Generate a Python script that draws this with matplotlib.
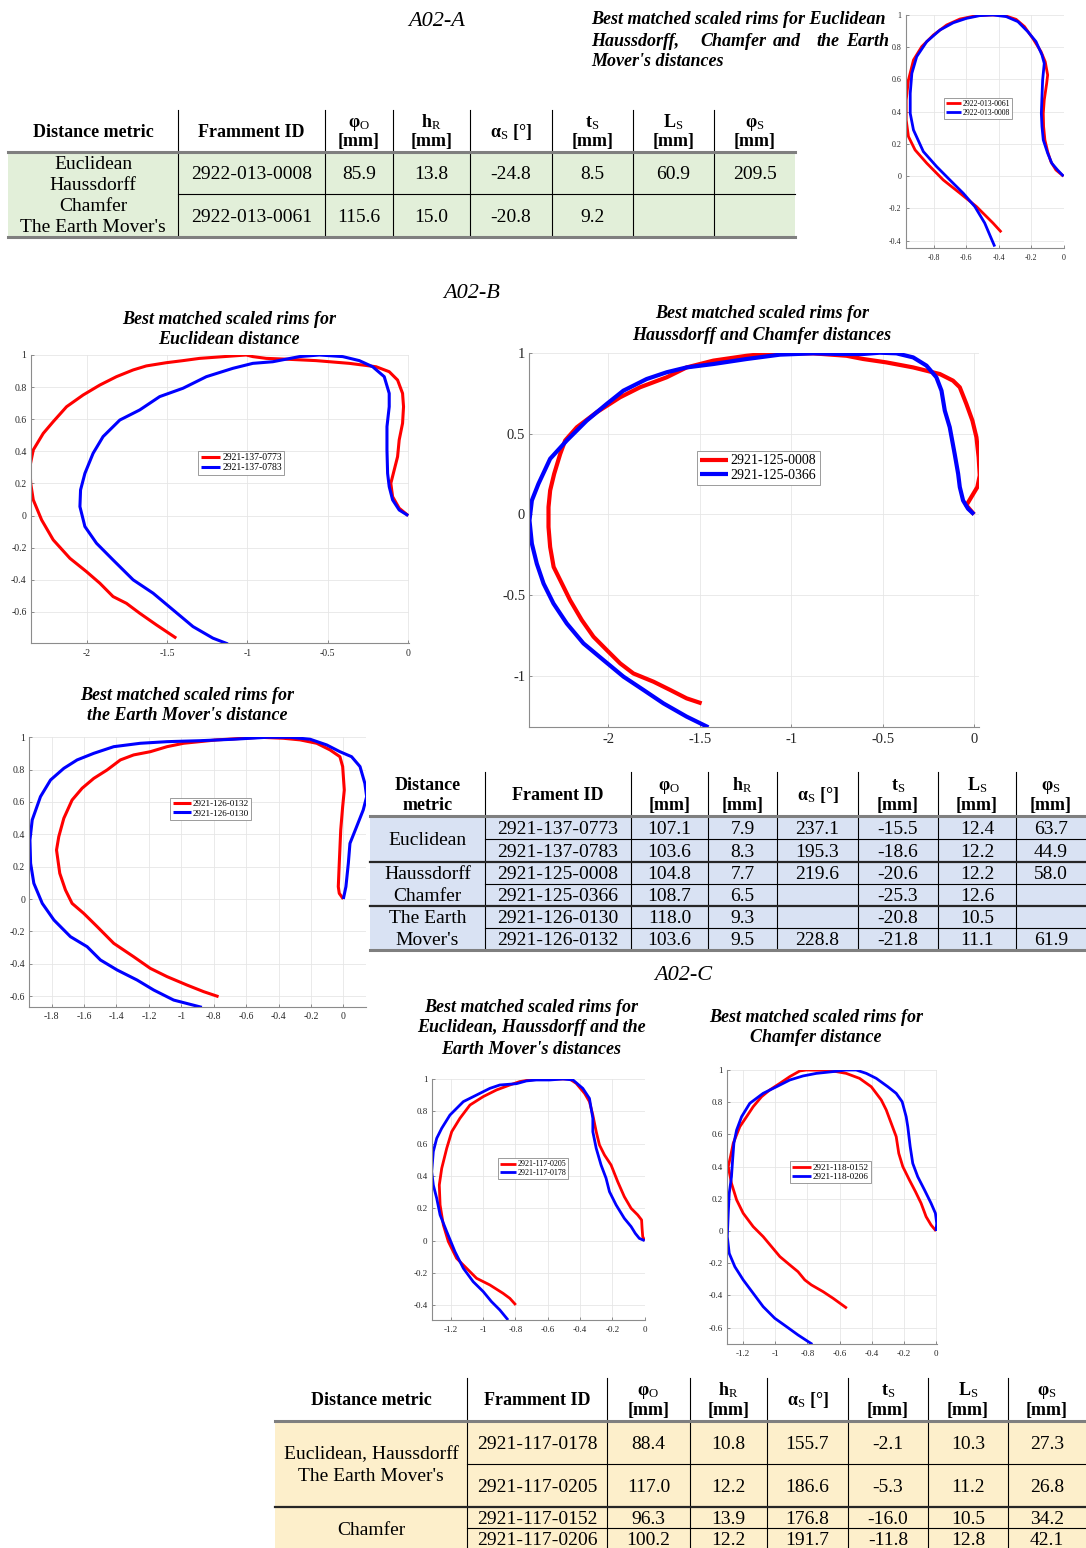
import matplotlib
matplotlib.use("Agg")
import matplotlib.pyplot as plt
from matplotlib.patches import Rectangle
from matplotlib.ticker import FuncFormatter
import numpy as np

plt.rcParams['font.family'] = ['Liberation Serif', 'DejaVu Sans']
plt.rcParams['axes.unicode_minus'] = False
plt.rcParams['mathtext.fontset'] = 'custom'
plt.rcParams['mathtext.rm'] = 'Liberation Serif'
plt.rcParams['mathtext.bf'] = 'Liberation Serif:bold'
plt.rcParams['mathtext.it'] = 'Liberation Serif:italic'

# ---- rim profiles (x, y) ----
a_red = np.array([(0, 0), (-0.047, 0.039), (-0.078, 0.09), (-0.098, 0.153), (-0.115, 0.225), (-0.123, 0.308),
                  (-0.125, 0.39), (-0.119, 0.473), (-0.104, 0.576), (-0.098, 0.628), (-0.113, 0.71), (-0.139, 0.773),
                  (-0.19, 0.855), (-0.241, 0.928), (-0.293, 0.973), (-0.374, 1.0), (-0.456, 1.0), (-0.538, 0.996),
                  (-0.64, 0.975), (-0.722, 0.938), (-0.804, 0.876), (-0.876, 0.804), (-0.927, 0.721), (-0.958, 0.597),
                  (-0.972, 0.473), (-0.972, 0.349), (-0.958, 0.246), (-0.917, 0.163), (-0.845, 0.081), (-0.743, -0.023),
                  (-0.64, -0.105), (-0.538, -0.188), (-0.436, -0.29), (-0.384, -0.347)])
a_blue = np.array([(0, 0), (-0.037, 0.039), (-0.072, 0.08), (-0.098, 0.143), (-0.125, 0.225), (-0.133, 0.308),
                   (-0.137, 0.39), (-0.133, 0.494), (-0.129, 0.597), (-0.119, 0.7), (-0.133, 0.752), (-0.17, 0.835),
                   (-0.221, 0.897), (-0.282, 0.959), (-0.354, 0.99), (-0.436, 1.0), (-0.518, 0.996), (-0.6, 0.979),
                   (-0.681, 0.952), (-0.763, 0.907), (-0.845, 0.835), (-0.907, 0.742), (-0.937, 0.638), (-0.947, 0.514),
                   (-0.947, 0.39), (-0.927, 0.287), (-0.866, 0.153), (-0.784, 0.06), (-0.702, -0.023), (-0.62, -0.105),
                   (-0.548, -0.188), (-0.487, -0.29), (-0.425, -0.436)])
a_labels = ["2922-013-0061", "2922-013-0008"]

b1_red = np.array([(0, 0), (-0.056, 0.046), (-0.097, 0.118), (-0.108, 0.201), (-0.087, 0.284), (-0.066, 0.367),
                   (-0.056, 0.471), (-0.035, 0.575), (-0.029, 0.678), (-0.035, 0.761), (-0.066, 0.844), (-0.118, 0.896),
                   (-0.2, 0.927), (-0.366, 0.948), (-0.573, 0.965), (-0.78, 0.975), (-0.883, 0.979), (-0.966, 0.99),
                   (-1.007, 1.0), (-1.09, 0.994), (-1.297, 0.979), (-1.4, 0.965), (-1.504, 0.952), (-1.628, 0.932),
                   (-1.71, 0.907), (-1.814, 0.865), (-1.917, 0.813), (-2.021, 0.751), (-2.124, 0.678), (-2.207, 0.585),
                   (-2.269, 0.512), (-2.331, 0.409), (-2.352, 0.305), (-2.347, 0.201), (-2.331, 0.098), (-2.279, -0.027),
                   (-2.207, -0.151), (-2.103, -0.266), (-2.0, -0.349), (-1.917, -0.421), (-1.835, -0.504),
                   (-1.752, -0.546), (-1.669, -0.608), (-1.566, -0.68), (-1.442, -0.763)])
b1_blue = np.array([(0, 0), (-0.056, 0.035), (-0.097, 0.098), (-0.118, 0.18), (-0.128, 0.263), (-0.132, 0.409),
                    (-0.132, 0.554), (-0.118, 0.678), (-0.118, 0.761), (-0.149, 0.865), (-0.221, 0.927), (-0.304, 0.965),
                    (-0.407, 0.99), (-0.552, 1.0), (-0.676, 0.99), (-0.842, 0.958), (-0.966, 0.948), (-1.09, 0.917),
                    (-1.255, 0.865), (-1.4, 0.793), (-1.545, 0.741), (-1.669, 0.658), (-1.793, 0.595), (-1.897, 0.492),
                    (-1.959, 0.388), (-2.01, 0.263), (-2.037, 0.16), (-2.041, 0.056), (-2.01, -0.068), (-1.938, -0.172),
                    (-1.835, -0.276), (-1.71, -0.4), (-1.586, -0.483), (-1.462, -0.587), (-1.338, -0.691),
                    (-1.214, -0.763), (-1.121, -0.799)])
b1_labels = ["2921-137-0773", "2921-137-0783"]

b2_red = np.array([(0, 0), (-0.042, 0.056), (-0.015, 0.107), (0.018, 0.169), (0.031, 0.241), (0.025, 0.354),
                   (0.013, 0.477), (-0.009, 0.58), (-0.042, 0.683), (-0.078, 0.786), (-0.115, 0.827), (-0.187, 0.868),
                   (-0.333, 0.909), (-0.479, 0.94), (-0.606, 0.961), (-0.697, 0.981), (-0.879, 0.996), (-1.061, 0.996),
                   (-1.152, 0.992), (-1.243, 0.981), (-1.425, 0.951), (-1.571, 0.909), (-1.68, 0.848), (-1.826, 0.786),
                   (-1.935, 0.724), (-2.062, 0.632), (-2.171, 0.539), (-2.235, 0.457), (-2.262, 0.374), (-2.295, 0.251),
                   (-2.317, 0.148), (-2.326, 0.045), (-2.326, -0.078), (-2.317, -0.202), (-2.298, -0.325),
                   (-2.262, -0.407), (-2.208, -0.531), (-2.144, -0.654), (-2.08, -0.757), (-2.007, -0.84),
                   (-1.934, -0.922), (-1.862, -0.984), (-1.752, -1.035), (-1.661, -1.086), (-1.571, -1.138),
                   (-1.489, -1.169)])
b2_blue = np.array([(0, 0), (-0.033, 0.035), (-0.06, 0.086), (-0.078, 0.169), (-0.087, 0.251), (-0.106, 0.374),
                    (-0.133, 0.539), (-0.16, 0.642), (-0.178, 0.765), (-0.206, 0.848), (-0.26, 0.92), (-0.333, 0.971),
                    (-0.424, 0.996), (-0.515, 1.0), (-0.606, 0.992), (-0.733, 0.992), (-0.879, 0.996), (-1.061, 0.988),
                    (-1.243, 0.961), (-1.425, 0.93), (-1.571, 0.909), (-1.68, 0.879), (-1.79, 0.837), (-1.917, 0.765),
                    (-2.008, 0.683), (-2.117, 0.58), (-2.226, 0.457), (-2.317, 0.344), (-2.381, 0.189), (-2.417, 0.086),
                    (-2.43, -0.037), (-2.417, -0.181), (-2.39, -0.305), (-2.353, -0.428), (-2.299, -0.551),
                    (-2.226, -0.675), (-2.135, -0.798), (-2.026, -0.901), (-1.916, -1.004), (-1.807, -1.086),
                    (-1.698, -1.169), (-1.571, -1.251), (-1.452, -1.317)])
b2_labels = ["2921-125-0008", "2921-125-0366"]

b3_red = np.array([(0, 0), (-0.025, 0.035), (-0.031, 0.076), (-0.025, 0.221), (-0.016, 0.427), (-0.004, 0.571),
                   (0.006, 0.674), (-0.004, 0.819), (-0.021, 0.88), (-0.082, 0.922), (-0.164, 0.963), (-0.267, 0.984),
                   (-0.37, 0.994), (-0.513, 1.0), (-0.616, 0.994), (-0.78, 0.984), (-0.986, 0.963), (-1.088, 0.942),
                   (-1.191, 0.911), (-1.294, 0.891), (-1.376, 0.86), (-1.458, 0.798), (-1.54, 0.746), (-1.612, 0.685),
                   (-1.674, 0.612), (-1.725, 0.499), (-1.756, 0.386), (-1.77, 0.303), (-1.75, 0.159), (-1.715, 0.056),
                   (-1.674, -0.027), (-1.602, -0.089), (-1.519, -0.171), (-1.417, -0.274), (-1.294, -0.357),
                   (-1.191, -0.429), (-1.088, -0.48), (-0.965, -0.532), (-0.862, -0.573), (-0.77, -0.604)])
b3_blue = np.array([(0, 0), (0.016, 0.076), (0.031, 0.221), (0.041, 0.344), (0.082, 0.447), (0.123, 0.551),
                    (0.144, 0.633), (0.133, 0.715), (0.103, 0.819), (0.051, 0.88), (-0.021, 0.911), (-0.103, 0.953),
                    (-0.205, 0.988), (-0.329, 1.0), (-0.472, 1.0), (-0.678, 0.988), (-0.883, 0.979), (-1.088, 0.973),
                    (-1.253, 0.963), (-1.417, 0.942), (-1.54, 0.901), (-1.643, 0.86), (-1.725, 0.808), (-1.807, 0.736),
                    (-1.869, 0.633), (-1.92, 0.489), (-1.934, 0.365), (-1.93, 0.221), (-1.91, 0.097), (-1.858, -0.027),
                    (-1.786, -0.13), (-1.684, -0.233), (-1.581, -0.295), (-1.499, -0.377), (-1.396, -0.439),
                    (-1.273, -0.501), (-1.17, -0.563), (-1.047, -0.625), (-0.873, -0.67)])
b3_labels = ["2921-126-0132", "2921-126-0130"]

c1_red = np.array([(0, 0), (-0.012, 0.025), (-0.016, 0.076), (-0.019, 0.128), (-0.043, 0.159), (-0.084, 0.2),
                   (-0.126, 0.272), (-0.167, 0.365), (-0.208, 0.468), (-0.249, 0.53), (-0.28, 0.592), (-0.3, 0.674),
                   (-0.321, 0.777), (-0.342, 0.86), (-0.372, 0.911), (-0.424, 0.973), (-0.465, 1.0), (-0.547, 1.0),
                   (-0.63, 1.0), (-0.712, 0.994), (-0.774, 0.984), (-0.835, 0.963), (-0.918, 0.932), (-1.0, 0.891),
                   (-1.082, 0.839), (-1.144, 0.757), (-1.195, 0.674), (-1.226, 0.571), (-1.257, 0.447),
                   (-1.272, 0.344), (-1.267, 0.221), (-1.247, 0.097), (-1.216, -0.006), (-1.165, -0.109),
                   (-1.103, -0.171), (-1.041, -0.233), (-0.959, -0.274), (-0.877, -0.326), (-0.835, -0.357),
                   (-0.798, -0.398)])
c1_blue = np.array([(0, 0), (-0.033, 0.014), (-0.058, 0.045), (-0.084, 0.087), (-0.126, 0.138), (-0.177, 0.221),
                    (-0.218, 0.303), (-0.239, 0.386), (-0.27, 0.468), (-0.3, 0.571), (-0.321, 0.674), (-0.321, 0.757),
                    (-0.342, 0.88), (-0.383, 0.942), (-0.444, 0.994), (-0.506, 1.0), (-0.588, 0.994), (-0.671, 0.994),
                    (-0.733, 0.988), (-0.794, 0.971), (-0.897, 0.963), (-0.959, 0.942), (-1.041, 0.901),
                    (-1.123, 0.86), (-1.206, 0.777), (-1.257, 0.695), (-1.288, 0.633), (-1.309, 0.551),
                    (-1.319, 0.427), (-1.309, 0.344), (-1.288, 0.262), (-1.267, 0.159), (-1.226, 0.056),
                    (-1.175, -0.068), (-1.123, -0.171), (-1.062, -0.254), (-1.0, -0.315), (-0.949, -0.377),
                    (-0.897, -0.429), (-0.846, -0.491)])
c1_labels = ["2921-117-0205", "2921-117-0178"]

c2_red = np.array([(0, 0), (-0.031, 0.037), (-0.062, 0.089), (-0.093, 0.172), (-0.128, 0.244), (-0.166, 0.317),
                   (-0.207, 0.4), (-0.232, 0.482), (-0.248, 0.586), (-0.279, 0.669), (-0.31, 0.752), (-0.341, 0.814),
                   (-0.403, 0.896), (-0.476, 0.948), (-0.559, 0.979), (-0.621, 0.99), (-0.703, 0.998), (-0.807, 1.0),
                   (-0.848, 0.994), (-0.91, 0.959), (-0.972, 0.917), (-1.035, 0.876), (-1.086, 0.834),
                   (-1.138, 0.772), (-1.179, 0.71), (-1.221, 0.648), (-1.262, 0.545), (-1.279, 0.462), (-1.293, 0.4),
                   (-1.273, 0.296), (-1.241, 0.193), (-1.2, 0.11), (-1.138, 0.027), (-1.076, -0.035),
                   (-1.024, -0.097), (-0.972, -0.159), (-0.91, -0.211), (-0.859, -0.253), (-0.817, -0.304),
                   (-0.776, -0.335), (-0.703, -0.377), (-0.641, -0.418), (-0.555, -0.48)])
c2_blue = np.array([(0, 0), (0.004, 0.048), (-0.004, 0.11), (-0.031, 0.172), (-0.072, 0.255), (-0.114, 0.337),
                    (-0.145, 0.42), (-0.161, 0.524), (-0.176, 0.648), (-0.186, 0.71), (-0.211, 0.803),
                    (-0.248, 0.855), (-0.3, 0.896), (-0.372, 0.948), (-0.434, 0.979), (-0.497, 1.0), (-0.559, 1.0),
                    (-0.641, 0.99), (-0.745, 0.979), (-0.828, 0.963), (-0.91, 0.938), (-0.993, 0.896),
                    (-1.076, 0.855), (-1.159, 0.793), (-1.21, 0.71), (-1.241, 0.627), (-1.258, 0.545),
                    (-1.266, 0.441), (-1.273, 0.337), (-1.287, 0.234), (-1.293, 0.11), (-1.299, -0.035),
                    (-1.287, -0.139), (-1.252, -0.222), (-1.2, -0.304), (-1.138, -0.387), (-1.076, -0.47),
                    (-1.004, -0.542), (-0.931, -0.594), (-0.859, -0.646), (-0.77, -0.704)])
c2_labels = ["2921-118-0152", "2921-118-0206"]

# ---- table contents ----
hdr_cols = [["φ$_\\mathrm{O}$", "[mm]"], ["h$_\\mathrm{R}$", "[mm]"], ["α$_\\mathrm{S}$ [°]"],
            ["t$_\\mathrm{S}$", "[mm]"], ["L$_\\mathrm{S}$", "[mm]"], ["φ$_\\mathrm{S}$", "[mm]"]]

ta_ids = ["2922-013-0008", "2922-013-0061"]
ta_phi_o = [85.9, 115.6]
ta_h_r = [13.8, 15.0]
ta_alpha_s = [-24.8, -20.8]
ta_t_s = [8.5, 9.2]
ta_l_s = [60.9, None]
ta_phi_s = [209.5, None]
ta_groups = [["Euclidean", "Haussdorff", "Chamfer", "The Earth Mover's"]]

tb_ids = ["2921-137-0773", "2921-137-0783", "2921-125-0008", "2921-125-0366", "2921-126-0130", "2921-126-0132"]
tb_phi_o = [107.1, 103.6, 104.8, 108.7, 118.0, 103.6]
tb_h_r = [7.9, 8.3, 7.7, 6.5, 9.3, 9.5]
tb_alpha_s = [237.1, 195.3, 219.6, None, None, 228.8]
tb_t_s = [-15.5, -18.6, -20.6, -25.3, -20.8, -21.8]
tb_l_s = [12.4, 12.2, 12.2, 12.6, 10.5, 11.1]
tb_phi_s = [63.7, 44.9, 58.0, None, None, 61.9]
tb_groups = [["Euclidean"], ["Haussdorff", "Chamfer"], ["The Earth", "Mover's"]]

tc_ids = ["2921-117-0178", "2921-117-0205", "2921-117-0152", "2921-117-0206"]
tc_phi_o = [88.4, 117.0, 96.3, 100.2]
tc_h_r = [10.8, 12.2, 13.9, 12.2]
tc_alpha_s = [155.7, 186.6, 176.8, 191.7]
tc_t_s = [-2.1, -5.3, -16.0, -11.8]
tc_l_s = [10.3, 11.2, 10.5, 12.8]
tc_phi_s = [27.3, 26.8, 34.2, 42.1]
tc_groups = [["Euclidean, Haussdorff", "The Earth Mover's"], ["Chamfer"]]

W, H = 1086, 1548
fig = plt.figure(figsize=(W / 100, H / 100), dpi=100)
fig.patch.set_facecolor('white')

bg = fig.add_axes([0, 0, 1, 1], zorder=0)
bg.set_xlim(0, W)
bg.set_ylim(H, 0)
bg.axis('off')


def fmt(v, p):
    return f'{round(v, 4) + 0:g}'


def rim_axes(box, xlim, ylim, xt, yt, fs):
    l, t, r, b = box
    ax = fig.add_axes([l / W, 1 - b / H, (r - l) / W, (b - t) / H], zorder=2)
    ax.set_facecolor('none')
    ax.set_xlim(*xlim)
    ax.set_ylim(*ylim)
    ax.set_xticks(xt)
    ax.set_yticks(yt)
    ax.xaxis.set_major_formatter(FuncFormatter(fmt))
    ax.yaxis.set_major_formatter(FuncFormatter(fmt))
    ax.tick_params(direction='in', length=2.5, width=0.6, color='#7a7a7a', labelcolor='#262626', labelsize=fs)
    ax.tick_params(axis='x', pad=4)
    ax.tick_params(axis='y', pad=3)
    for s in ['top', 'right']:
        ax.spines[s].set_visible(False)
    for s in ['left', 'bottom']:
        ax.spines[s].set_color('#8c8c8c')
        ax.spines[s].set_linewidth(0.8)
    ax.grid(True, color='#e6e6e6', lw=0.6)
    ax.set_axisbelow(True)
    return ax


def rims(ax, red, blue, labels, lw, lfs, center):
    ax.plot(red[:, 0], red[:, 1], color='#ff0000', lw=lw, label=labels[0], solid_capstyle='butt')
    ax.plot(blue[:, 0], blue[:, 1], color='#0000ff', lw=lw, label=labels[1], solid_capstyle='butt')
    leg = ax.legend(loc='center', bbox_to_anchor=center, fontsize=lfs, frameon=True, fancybox=False,
                    edgecolor='#8c8c8c', framealpha=1, borderpad=0.25, handlelength=2.0,
                    handletextpad=0.2, labelspacing=0.1, borderaxespad=0)
    leg.get_frame().set_linewidth(0.6)


def put_lines(xc, yc, lines, gap, fs, **kw):
    n = len(lines)
    off = 0.33 * fs * 100 / 72
    for i, s in enumerate(lines):
        bg.text(xc, yc + (i - (n - 1) / 2) * gap + off, s, ha='center', va='baseline', fontsize=fs, **kw)


def cell(v):
    if v is None:
        return ''
    if isinstance(v, str):
        return v
    return f'{v:.1f}'


def draw_table(cols, top, body, fill, hdr, hdr_gap, ids, colvals, groups, group_rows, glabel_gap):
    bottom = body[-1]
    bg.add_patch(Rectangle((cols[0], body[0]), cols[-1] - cols[0], bottom - body[0], fc=fill, ec='none', zorder=1))
    for x in cols[1:-1]:
        bg.plot([x, x], [top, bottom], color='k', lw=0.8, zorder=3)
    starts = [g[0] for g in group_rows]
    for i, y in enumerate(body[1:-1], start=1):
        if i in starts:
            bg.plot([cols[0], cols[-1]], [y, y], color='#262626', lw=1.6, zorder=3)
        else:
            bg.plot([cols[1], cols[-1]], [y, y], color='k', lw=0.8, zorder=3)
    bg.plot([cols[0], cols[-1]], [body[0], body[0]], color='#7f7f7f', lw=2.2, zorder=3)
    bg.plot([cols[0], cols[-1]], [bottom, bottom], color='#7f7f7f', lw=2.2, zorder=3)
    hy = (top + body[0]) / 2
    for j, lines in enumerate(hdr):
        put_lines((cols[j] + cols[j + 1]) / 2, hy, lines, hdr_gap, 13, fontweight='bold', color='k')
    for r in range(len(ids)):
        ry = (body[r] + body[r + 1]) / 2
        vals = [ids[r]] + [cell(c[r]) for c in colvals]
        for j, s in enumerate(vals):
            put_lines((cols[j + 1] + cols[j + 2]) / 2, ry, [s], 0, 14, color='k')
    for g, (r0, r1) in zip(groups, group_rows):
        gy = (body[r0] + body[r1]) / 2
        put_lines((cols[0] + cols[1]) / 2, gy, g, glabel_gap, 14, color='k')


# ---- section headings and plot titles ----
for s, x, y in [("A02-A", 437, 22), ("A02-B", 472, 294), ("A02-C", 683, 975)]:
    bg.text(x, y, s, ha='center', va='center', fontsize=16, fontstyle='italic')

tkw = dict(fontsize=13, fontstyle='italic', fontweight='bold', va='center', zorder=2)
bg.text(591, 20, "Best matched scaled rims for Euclidean", ha='left', **tkw)
for w, x in [("Haussdorff,", 591), ("Chamfer", 700), ("and", 773), ("the", 816), ("Earth", 846)]:
    bg.text(x, 41, w, ha='left', **tkw)
bg.text(591, 62, "Mover's distances", ha='left', **tkw)

for lines, x, y0 in [(["Best matched scaled rims for", "Euclidean distance"], 229, 319),
                     (["Best matched scaled rims for", "Haussdorff and Chamfer distances"], 762, 314),
                     (["Best matched scaled rims for", "the Earth Mover's distance"], 187, 695),
                     (["Best matched scaled rims for", "Euclidean, Haussdorff and the", "Earth Mover's distances"], 531, 1007),
                     (["Best matched scaled rims for", "Chamfer distance"], 816, 1017)]:
    for i, s in enumerate(lines):
        bg.text(x, y0 + 21 * i, s, ha='center', **tkw)

# ---- rim plots ----
ax = rim_axes((905.7, 15, 1064, 248), (-0.975, 0.003), (-0.445, 1.0),
              [-0.8, -0.6, -0.4, -0.2, 0], [-0.4, -0.2, 0, 0.2, 0.4, 0.6, 0.8, 1], 5.8)
rims(ax, a_red, a_blue, a_labels, 2.0, 5.6, (0.456, 0.60))

ax = rim_axes((30.7, 355, 409, 643.3), (-2.347, 0.005), (-0.795, 1.0),
              [-2, -1.5, -1, -0.5, 0], [-0.6, -0.4, -0.2, 0, 0.2, 0.4, 0.6, 0.8, 1], 7)
rims(ax, b1_red, b1_blue, b1_labels, 2.2, 7, (0.557, 0.626))

ax = rim_axes((529.3, 352.7, 979, 727.3), (-2.431, 0.027), (-1.317, 1.0),
              [-2, -1.5, -1, -0.5, 0], [-1, -0.5, 0, 0.5, 1], 10.5)
rims(ax, b2_red, b2_blue, b2_labels, 3.0, 10, (0.509, 0.692))

ax = rim_axes((29.3, 737.3, 366, 1006.7), (-1.938, 0.14), (-0.666, 1.0),
              [-1.8, -1.6, -1.4, -1.2, -1, -0.8, -0.6, -0.4, -0.2, 0],
              [-0.6, -0.4, -0.2, 0, 0.2, 0.4, 0.6, 0.8, 1], 7)
rims(ax, b3_red, b3_blue, b3_labels, 2.2, 6.6, (0.539, 0.735))

ax = rim_axes((431.7, 1079, 645.3, 1320), (-1.319, 0.004), (-0.491, 1.0),
              [-1.2, -1, -0.8, -0.6, -0.4, -0.2, 0], [-0.4, -0.2, 0, 0.2, 0.4, 0.6, 0.8, 1], 6.5)
rims(ax, c1_red, c1_blue, c1_labels, 2.0, 5.8, (0.475, 0.627))

ax = rim_axes((727.3, 1070, 936.7, 1344.3), (-1.299, 0.004), (-0.704, 1.0),
              [-1.2, -1, -0.8, -0.6, -0.4, -0.2, 0], [-0.6, -0.4, -0.2, 0, 0.2, 0.4, 0.6, 0.8, 1], 6.5)
rims(ax, c2_red, c2_blue, c2_labels, 2.0, 6.6, (0.493, 0.627))

# ---- tables ----
draw_table([8, 178, 325, 393, 470, 552, 633, 714, 795], 110, [152, 194, 237], '#e2efd9',
           [["Distance metric"], ["Framment ID"]] + hdr_cols, 19,
           ta_ids, [ta_phi_o, ta_h_r, ta_alpha_s, ta_t_s, ta_l_s, ta_phi_s], ta_groups, [(0, 2)], 21)

draw_table([370, 485, 631, 708, 777, 858, 938, 1016, 1086], 772, [816, 839, 862, 884, 906, 928, 950], '#d9e2f3',
           [["Distance", "metric"], ["Frament ID"]] + hdr_cols, 20,
           tb_ids, [tb_phi_o, tb_h_r, tb_alpha_s, tb_t_s, tb_l_s, tb_phi_s], tb_groups,
           [(0, 2), (2, 4), (4, 6)], 22)

draw_table([275, 467, 607, 690, 767, 848, 928, 1008, 1086], 1378, [1421, 1464, 1507, 1528, 1550], '#fdefcb',
           [["Distance metric"], ["Framment ID"]] + hdr_cols, 20,
           tc_ids, [tc_phi_o, tc_h_r, tc_alpha_s, tc_t_s, tc_l_s, tc_phi_s], tc_groups,
           [(0, 2), (2, 4)], 22)

fig.savefig("out.png", dpi=100, facecolor='white')
